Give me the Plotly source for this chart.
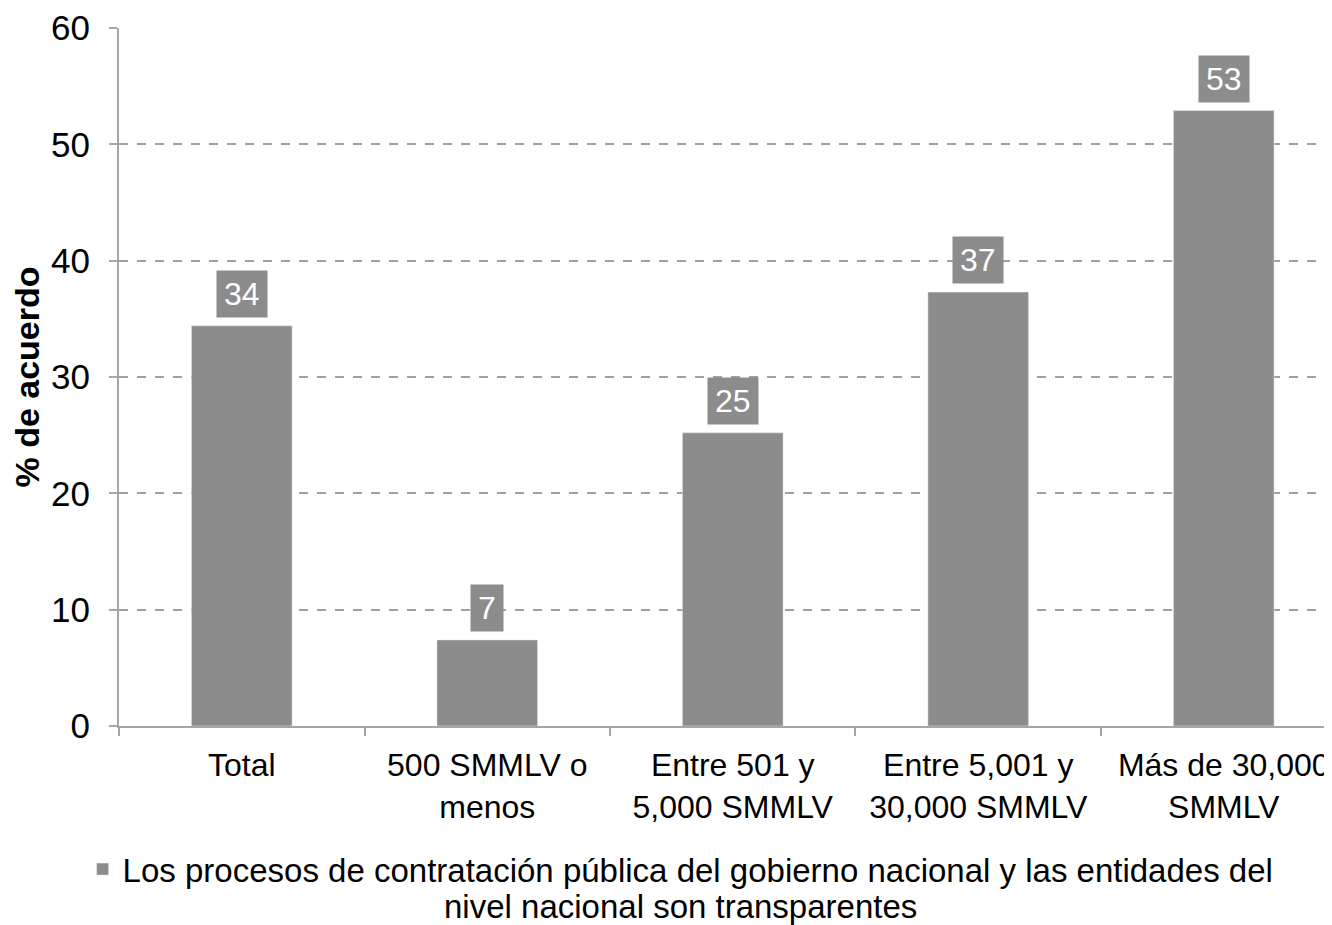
import plotly.graph_objects as go

categories = ["Total", "500 SMMLV o<br>menos", "Entre 501 y<br>5,000 SMMLV",
              "Entre 5,001 y<br>30,000 SMMLV", "Más de 30,000<br>SMMLV"]
values = [34.4, 7.4, 25.2, 37.3, 52.9]
labels = ["34", "7", "25", "37", "53"]
legend_line1 = "Los procesos de contratación pública del gobierno nacional y las entidades del"
legend_line2 = "nivel nacional son transparentes"

FONT = "Liberation Sans, Arial, sans-serif"
GRAY = "#8c8c8c"
FS = 33

fig = go.Figure()
fig.add_trace(go.Bar(
    x=categories,
    y=values,
    name=legend_line1,
    marker_color=GRAY,
    width=0.41,
    showlegend=True,
))

# value labels in grey boxes above bars
for c, v, t in zip(categories, values, labels):
    fig.add_annotation(
        x=c, y=v, text=t, showarrow=False,
        yanchor="bottom", yshift=8,
        font=dict(family=FONT, size=32, color="white"),
        bgcolor=GRAY, borderpad=7, height=32,
    )

# second line of the legend label, centred under the first
fig.add_annotation(
    xref="paper", yref="paper", x=0.463, y=-0.259,
    xanchor="center", yanchor="middle",
    text=legend_line2, showarrow=False,
    font=dict(family=FONT, size=FS, color="black"),
)

# page body adds an 8px offset, so size the figure to fit the window
fig.update_layout(
    width=1324, height=917,
    margin=dict(l=111, r=0, t=20, b=199),
    paper_bgcolor="white", plot_bgcolor="white",
    font=dict(family=FONT, size=FS, color="black"),
    bargap=0.59,
    xaxis=dict(
        range=[-0.5, 4.441],
        automargin=False,
        showline=True, linecolor="#a6a6a6", linewidth=2,
        ticks="outside", ticklen=8, tickcolor="#a6a6a6", tickwidth=2,
        tickson="boundaries",
        ticklabelstandoff=10,
        tickfont=dict(size=32),
        showgrid=False,
    ),
    yaxis=dict(
        range=[0, 60], dtick=10,
        automargin=False,
        showline=True, linecolor="#a6a6a6", linewidth=2,
        ticks="outside", ticklen=8, tickcolor="#a6a6a6", tickwidth=2,
        ticklabelstandoff=12,
        tickfont=dict(size=35),
        showgrid=True, gridcolor="#a0a0a0", griddash="dash", gridwidth=1.5,
        zeroline=False,
        title=dict(text="<b>% de acuerdo</b>", font=dict(size=34)),
    ),
    legend=dict(
        orientation="h", x=0.463, xanchor="center", y=-0.165, yanchor="top",
        font=dict(size=FS),
    ),
)

fig.write_html("out.html")
